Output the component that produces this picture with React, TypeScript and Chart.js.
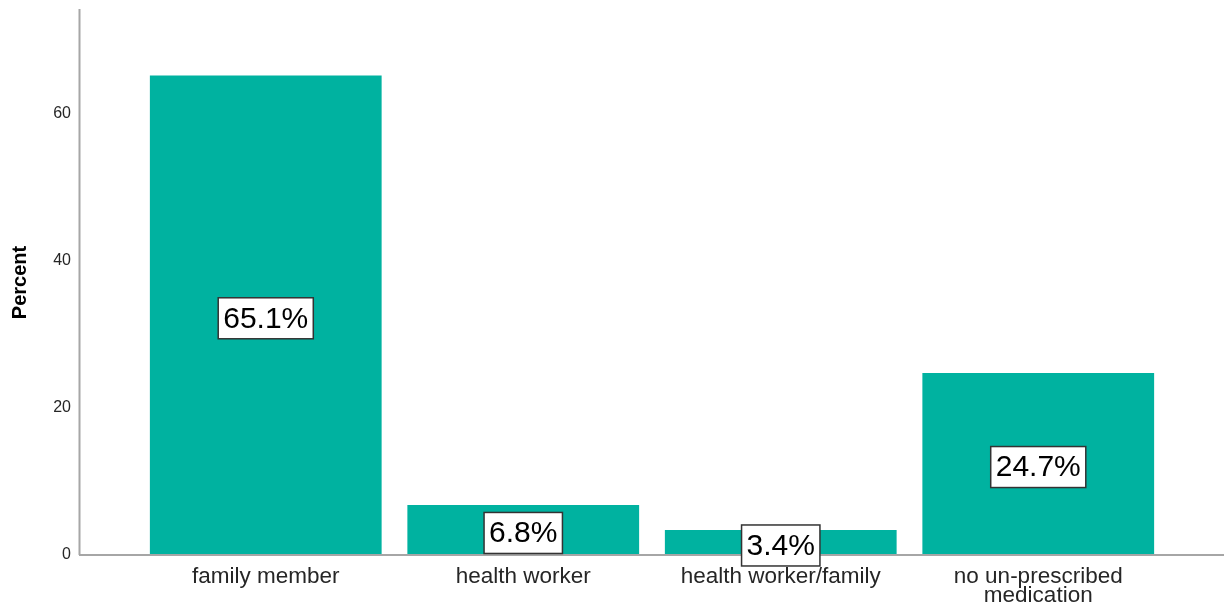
import React, { useEffect, useRef } from "react";
import { Chart, registerables } from "chart.js";

Chart.register(...registerables);

const categories: (string | string[])[] = [
  "family member",
  "health worker",
  "health worker/family",
  ["no un-prescribed", "medication"],
];
const percentValues = [65.1, 6.8, 3.4, 24.7];
const valueLabels = ["65.1%", "6.8%", "3.4%", "24.7%"];
const yTicks = [0, 20, 40, 60];

const BAR_COLOR = "#00b2a0";
const AXIS_COLOR = "#a6a6a6";
const FONT = "'Liberation Sans', Arial, sans-serif";

const axisLinesPlugin = {
  id: "axisLines",
  afterDatasetsDraw(chart: any) {
    const { ctx } = chart;
    const yScale = chart.scales.y;
    const y0 = yScale.getPixelForValue(0);
    const yTop = yScale.getPixelForValue(yScale.max);
    ctx.save();
    ctx.strokeStyle = AXIS_COLOR;
    ctx.lineWidth = 2;
    ctx.beginPath();
    ctx.moveTo(79.5, yTop - 1);
    ctx.lineTo(79.5, y0);
    ctx.moveTo(79, y0);
    ctx.lineTo(chart.width, y0);
    ctx.stroke();
    ctx.restore();
  },
};

const valueLabelPlugin = {
  id: "valueLabels",
  afterDraw(chart: any) {
    const { ctx } = chart;
    const meta = chart.getDatasetMeta(0);
    ctx.save();
    ctx.font = `30px ${FONT}`;
    ctx.textAlign = "center";
    ctx.textBaseline = "middle";
    meta.data.forEach((bar: any, i: number) => {
      const text = valueLabels[i];
      const cx = bar.x;
      const cy = (bar.y + bar.base) / 2 + 3;
      const w = ctx.measureText(text).width + 10;
      const h = 41;
      ctx.fillStyle = "#ffffff";
      ctx.fillRect(cx - w / 2, cy - h / 2, w, h);
      ctx.strokeStyle = "#333333";
      ctx.lineWidth = 1.5;
      ctx.strokeRect(cx - w / 2, cy - h / 2, w, h);
      ctx.fillStyle = "#000000";
      ctx.fillText(text, cx, cy + 1);
    });
    ctx.restore();
  },
};

export default function App() {
  const canvasRef = useRef<HTMLCanvasElement | null>(null);

  useEffect(() => {
    if (!canvasRef.current) return;
    const chart = new Chart(canvasRef.current, {
      type: "bar",
      data: {
        labels: categories,
        datasets: [
          {
            data: percentValues,
            backgroundColor: BAR_COLOR,
            borderWidth: 0,
            barPercentage: 0.9,
            categoryPercentage: 1,
          },
        ],
      },
      options: {
        animation: false,
        responsive: true,
        maintainAspectRatio: false,
        layout: { padding: { top: 10, right: 57, left: 0, bottom: 0 } },
        plugins: {
          legend: { display: false },
          tooltip: { enabled: false },
        },
        scales: {
          x: {
            grid: { display: false, drawTicks: false },
            border: { display: false },
            ticks: {
              color: "#262626",
              padding: 12,
              maxRotation: 0,
              autoSkip: false,
              font: { family: FONT, size: 22.5, lineHeight: "19px" },
            },
            afterFit(scale: any) {
              scale.height = 51;
              scale.paddingLeft = 0;
              scale.paddingRight = 0;
            },
          },
          y: {
            min: 0,
            max: 74,
            grid: { display: false, drawTicks: false },
            border: { display: false },
            ticks: {
              color: "#262626",
              padding: 66,
              font: { family: FONT, size: 16 },
            },
            afterBuildTicks(scale: any) {
              scale.ticks = yTicks.map((v) => ({ value: v }));
            },
            afterFit(scale: any) {
              scale.width = 137;
              scale.paddingTop = 0;
              scale.paddingBottom = 0;
            },
            title: {
              display: true,
              text: "Percent",
              color: "#000000",
              padding: { top: 8, bottom: 0 },
              font: { family: FONT, size: 20, weight: "bold" },
            },
          },
        },
      },
      plugins: [axisLinesPlugin, valueLabelPlugin],
    });
    return () => chart.destroy();
  }, []);

  return (
    <div style={{ position: "absolute", left: 0, top: 0, width: 1224, height: 606, background: "#ffffff" }}>
      <canvas ref={canvasRef} />
    </div>
  );
}
